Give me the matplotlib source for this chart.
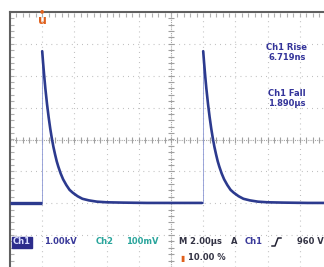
import matplotlib
matplotlib.use("Agg")
import matplotlib.pyplot as plt
from matplotlib.lines import Line2D
import numpy as np

time_per_div_us = 2.0
x_range_us = [-2.0, 18.0]          # 10 divisions, trigger 1 div from left
y_range_div = [-4.0, 4.0]          # 8 divisions
pulse_times_us = [0.0, 10.0]
baseline_div = -1.99
peak_div = 2.77
decay_t_us = [0.0, 0.05, 0.1, 0.15, 0.2, 0.3, 0.4, 0.5, 0.6, 0.7, 0.8, 0.9,
              1.0, 1.15, 1.3, 1.5, 1.7, 1.9, 2.2, 2.5, 2.9, 3.4, 4.0, 5.0,
              6.5, 8.0, 9.93]
decay_v_div = [2.77, 2.44, 2.14, 1.85, 1.58, 1.11, 0.70, 0.34, 0.03, -0.24,
               -0.47, -0.68, -0.85, -1.07, -1.25, -1.43, -1.58, -1.67, -1.78,
               -1.86, -1.91, -1.95, -1.97, -1.98, -1.99, -1.99, -1.99]
readouts = [("Ch1 Rise", "6.719ns"), ("Ch1 Fall", "1.890\u00b5s")]

W, H = 324, 267
fig = plt.figure(figsize=(W / 100, H / 100), dpi=100)
fig.patch.set_facecolor("white")
ax = fig.add_axes([10 / W, 0.0, 322 / W, (H - 12) / H])
ax.set_xlim(*x_range_us)
ax.set_ylim(*y_range_div)
ax.set_facecolor("white")
for s in ["bottom", "right"]:
    ax.spines[s].set_visible(False)
for s in ["top", "left"]:
    ax.spines[s].set_color("#606060")
    ax.spines[s].set_linewidth(1.5)
ax.set_xticks([]); ax.set_yticks([])

gcol = "#b8b8b8"
xd = [x_range_us[0] + i * time_per_div_us for i in range(11)]
yd = [y_range_div[0] + i for i in range(9)]
xc = (x_range_us[0] + x_range_us[1]) / 2
for x in xd[1:]:
    if x != xc:
        ax.axvline(x, color=gcol, lw=0.8, ls=(0, (0.8, 3.8)), zorder=1)
for y in yd[1:-1]:
    if y != 0:
        ax.axhline(y, color=gcol, lw=0.8, ls=(0, (0.8, 3.8)), zorder=1)
# center lines with minor ticks
ax.axvline(xc, color="#a5a5a5", lw=0.8, ls=(0, (1, 1)), zorder=1)
ax.axhline(0, color="#a5a5a5", lw=0.8, ls=(0, (1, 1)), zorder=1)
minor_y = np.arange(y_range_div[0], y_range_div[1] + 0.01, 0.2)
minor_x = np.arange(x_range_us[0], x_range_us[1] + 0.01, 0.4)
ax.plot([xc] * len(minor_y), minor_y, ls="none", marker="_", ms=4.5,
        mew=0.8, color="#a0a0a0", zorder=1)
ax.plot(minor_x, [0] * len(minor_x), ls="none", marker="|", ms=4.5,
        mew=0.8, color="#a0a0a0", zorder=1)
# border ticks
ax.plot([x_range_us[0] + 0.12] * len(minor_y), minor_y, ls="none", marker="_",
        ms=2.5, mew=0.8, color="#b0b0b0", zorder=1)
ax.plot(minor_x, [y_range_div[1] - 0.1] * len(minor_x), ls="none", marker="|",
        ms=2.5, mew=0.8, color="#b0b0b0", zorder=1)

# ---- waveform ----
tcol = "#2c3a8e"
ax.plot([x_range_us[0], pulse_times_us[0]], [baseline_div, baseline_div],
        color=tcol, lw=2.4, solid_capstyle="butt", zorder=3)
for i, p in enumerate(pulse_times_us):
    ax.plot([p, p], [baseline_div, peak_div], color="#8c98d4", lw=0.6, zorder=2)
    tt = [p + t for t in decay_t_us]
    ax.plot(tt, decay_v_div, color=tcol, lw=1.9, zorder=3,
            solid_joinstyle="round", solid_capstyle="round")

# trigger marker
orange = "#e0601c"
fig.text(42 / W, 1 - 11 / H, "\u25cf", color=orange, fontsize=3.5, ha="center",
         va="center", zorder=10)
fig.text(42 / W, 1 - 20 / H, "u", color=orange, fontsize=9, fontweight="bold",
         ha="center", va="center")

# readouts
rcol = "#34349a"
for k, (a, b) in enumerate(readouts):
    y0 = 48 + 45 * k
    fig.text(287 / W, 1 - y0 / H, a, color=rcol, fontsize=6, fontweight="bold",
             ha="center", va="center")
    fig.text(287 / W, 1 - (y0 + 10) / H, b, color=rcol, fontsize=6,
             fontweight="bold", ha="center", va="center")

# bottom status line
yb = 1 - 242 / H
fs = 6.0
fw = "bold"
fig.text(13 / W, yb, "Ch1", color="#d8dcff", fontsize=fs, fontweight=fw,
         va="center", bbox=dict(boxstyle="square,pad=0.12", fc="#2c2c8c", ec="#2c2c8c"))
fig.text(44 / W, yb, "1.00kV", color="#3a3a9a", fontsize=fs, fontweight=fw, va="center")
teal = "#2aa59c"
fig.text(96 / W, yb, "Ch2", color=teal, fontsize=fs, fontweight=fw, va="center")
fig.text(126 / W, yb, "100mV", color=teal, fontsize=fs, fontweight=fw, va="center")
fig.text(179 / W, yb, "M 2.00\u00b5s", color="#333344", fontsize=fs, fontweight=fw, va="center")
fig.text(231 / W, yb, "A", color="#333344", fontsize=fs, fontweight=fw, va="center")
fig.text(245 / W, yb, "Ch1", color="#3a3a9a", fontsize=fs, fontweight=fw, va="center")
fig.add_artist(Line2D([272 / W, 275 / W, 278 / W, 281 / W],
                      [1 - 246 / H, 1 - 246 / H, 1 - 238 / H, 1 - 238 / H],
                      color="#222233", lw=1.1))
fig.text(297 / W, yb, "960 V", color="#333344", fontsize=fs, fontweight=fw, va="center")
fig.text(180 / W, 1 - 258 / H, "\u25ae", color=orange, fontsize=5.5, va="center")
fig.text(188 / W, 1 - 258 / H, "10.00 %", color="#333344", fontsize=fs,
         fontweight=fw, va="center")

fig.savefig("out.png", dpi=100, facecolor="white")
